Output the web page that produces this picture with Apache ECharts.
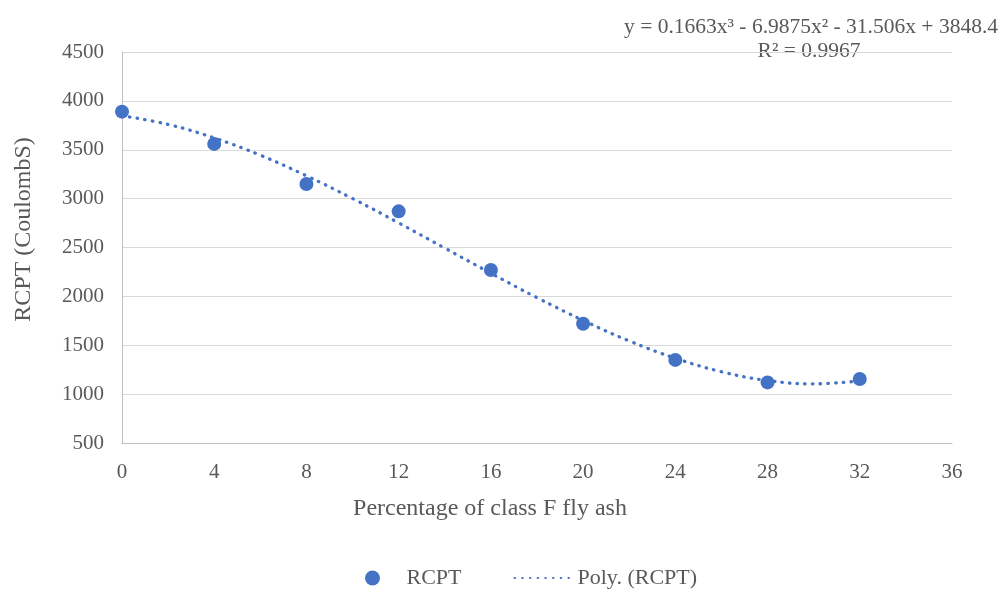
<!DOCTYPE html>
<html>
<head>
<meta charset="utf-8">
<script src="https://cdn.jsdelivr.net/npm/echarts@6/dist/echarts.min.js"></script>
<style>html,body{margin:0;padding:0;background:#fff}#c{width:1002px;height:590px}</style>
</head>
<body>
<div id="c"></div>
<script>
var xValues = [0, 4, 8, 12, 16, 20, 24, 28, 32];
var rcpt = [3890, 3560, 3150, 2870, 2270, 1720, 1350, 1120, 1155];
var trendX = [0, 2, 4, 6, 8, 10, 12, 14, 16, 18, 20, 22, 24, 26, 28, 30, 32];
var trendY = [3848, 3759, 3621, 3444, 3234, 3001, 2752, 2494, 2237, 1987, 1754, 1544, 1367, 1229, 1139, 1105, 1135];
var equationText = 'y = 0.1663x³ - 6.9875x² - 31.506x + 3848.4';
var r2Text = 'R² = 0.9967';
var xTitle = 'Percentage of class F fly ash';
var yTitle = 'RCPT (CoulombS)';

var font = '"Liberation Serif", "Times New Roman", serif';
var txt = '#595959';
var chart = echarts.init(document.getElementById('c'), null, {renderer: 'canvas'});
chart.setOption({
  animation: false,
  textStyle: {fontFamily: font},
  grid: {left: 122, right: 50, top: 52, bottom: 147, containLabel: false},
  xAxis: {
    type: 'value', min: 0, max: 36, interval: 4,
    name: xTitle, nameLocation: 'middle', nameGap: 54,
    nameTextStyle: {fontFamily: font, fontSize: 24, color: txt, padding: [0, 94, 0, 0]},
    axisLine: {show: true, onZero: false, lineStyle: {color: '#bfbfbf', width: 1}},
    axisTick: {show: false},
    axisLabel: {fontFamily: font, fontSize: 21, color: txt, margin: 19, formatter: function (v) { return String(v); }},
    splitLine: {show: false}
  },
  yAxis: {
    type: 'value', min: 500, max: 4500, interval: 500,
    name: yTitle, nameLocation: 'middle', nameGap: 86, nameRotate: 90,
    nameTextStyle: {fontFamily: font, fontSize: 24, color: txt, padding: [0, 0, 0, 36]},
    axisLine: {show: true, lineStyle: {color: '#bfbfbf', width: 1}},
    axisTick: {show: false},
    axisLabel: {fontFamily: font, fontSize: 21, color: txt, margin: 18, formatter: function (v) { return String(v); }},
    splitLine: {show: true, lineStyle: {color: '#d9d9d9', width: 1}}
  },
  legend: {
    bottom: -4, left: 360, itemGap: 52, itemWidth: 58, itemHeight: 15,
    textStyle: {fontFamily: font, fontSize: 22, color: txt},
    data: [
      {name: 'RCPT', icon: 'circle'},
      {name: 'Poly. (RCPT)', itemStyle: {opacity: 0}}
    ]
  },
  graphic: [
    {type: 'text', right: 4, top: 16, style: {text: equationText, font: '21.5px ' + font, fill: txt}},
    {type: 'text', x: 809, y: 40, style: {text: r2Text, font: '21.5px ' + font, fill: txt, textAlign: 'center'}}
  ],
  series: [
    {
      name: 'Poly. (RCPT)', type: 'line', smooth: 0.4, showSymbol: false, symbol: 'none',
      data: trendX.map(function (x, i) { return [x, trendY[i]]; }),
      lineStyle: {color: '#4472C4', width: 3.3, type: [0.5, 7.2], cap: 'round'},
      itemStyle: {color: '#4472C4'},
      z: 2
    },
    {
      name: 'RCPT', type: 'scatter', symbol: 'circle', symbolSize: 14,
      data: xValues.map(function (x, i) { return [x, rcpt[i]]; }),
      itemStyle: {color: '#4472C4', opacity: 1},
      z: 3
    }
  ]
});
</script>
</body>
</html>
